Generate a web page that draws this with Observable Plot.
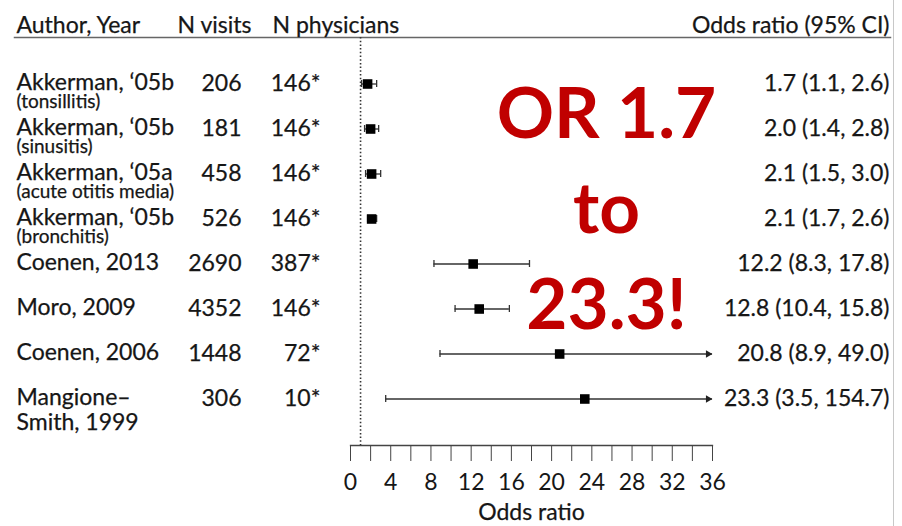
<!DOCTYPE html>
<html>
<head>
<meta charset="utf-8">
<script src="https://cdn.jsdelivr.net/npm/d3@7"></script>
<script src="https://cdn.jsdelivr.net/npm/@observablehq/plot@0.6"></script>
<style>
  html, body { margin: 0; padding: 0; background: #fff; }
  #chart svg { display: block; }
</style>
</head>
<body>
<div id="chart"></div>
<script>
// Studies, in display order (top to bottom)
const authors = [
  "Akkerman, ‘05b",
  "Akkerman, ‘05b",
  "Akkerman, ‘05a",
  "Akkerman, ‘05b",
  "Coenen, 2013",
  "Moro, 2009",
  "Coenen, 2006",
  "Mangione–\nSmith, 1999"
];
const conditions = ["(tonsillitis)", "(sinusitis)", "(acute otitis media)", "(bronchitis)", "", "", "", ""];
const visits = [206, 181, 458, 526, 2690, 4352, 1448, 306];
const physicians = [146, 146, 146, 146, 387, 146, 72, 10];

// Odds ratios with 95% confidence intervals
const oddsRatio = [1.7, 2.0, 2.1, 2.1, 12.2, 12.8, 20.8, 23.3];
const ciLow = [1.1, 1.4, 1.5, 1.7, 8.3, 10.4, 8.9, 3.5];
const ciHigh = [2.6, 2.8, 3.0, 2.6, 17.8, 15.8, 49.0, 154.7];

// Axis
const xMax = 36;
const minorTicks = [0, 2, 4, 6, 8, 10, 12, 14, 16, 18, 20, 22, 24, 26, 28, 30, 32, 34, 36];
const tickLabels = [0, 4, 8, 12, 16, 20, 24, 28, 32, 36];
const axisTitle = "Odds ratio";
const headers = {author: "Author, Year", visits: "N visits", physicians: "N physicians", or: "Odds ratio (95% CI)"};

const rows = authors.map((author, i) => ({
  i,
  author,
  condition: conditions[i],
  visits: visits[i],
  physicians: physicians[i],
  or: oddsRatio[i],
  lo: ciLow[i],
  hi: ciHigh[i]
}));

const fmt = d3.format(".1f");
const ink = "#161616";
const red = "#C00000";
const callout = `OR ${d3.min(oddsRatio)}\nto\n${d3.max(oddsRatio)}!`;

// a faint outline gives the body text a little more weight
const textStyle = {fill: ink, stroke: ink, strokeWidth: 0.25};

const chart = Plot.plot({
  width: 902,
  height: 526,
  marginLeft: 350,
  marginRight: 190,
  marginTop: 37,
  marginBottom: 81,
  style: {fontFamily: "Lato, sans-serif", fontSize: "23px", color: ink, background: "#fff", overflow: "visible"},
  x: {domain: [0, xMax]},
  y: {type: "band", domain: rows.map((d) => d.i), paddingInner: 0, paddingOuter: 0.5, axis: null},
  marks: [
    // header rule, axis line and right border
    Plot.frame({anchor: "top", insetLeft: -336, insetRight: -178, stroke: "#666", strokeWidth: 1.5}),
    Plot.frame({anchor: "bottom", stroke: "#444", strokeWidth: 1.3}),
    Plot.frame({anchor: "right", insetRight: -181, insetTop: -37, insetBottom: -81, stroke: "#c8c8c8"}),

    // line of no effect
    Plot.ruleX([1], {stroke: "#333", strokeWidth: 1.6, strokeDasharray: "1.5,2.2"}),

    Plot.axisX({
      ticks: minorTicks,
      tickSize: 16,
      tickPadding: 12,
      tickFormat: (d) => (tickLabels.includes(d) ? String(d) : ""),
      label: null,
      stroke: "#444",
      fill: ink
    }),
    Plot.text([axisTitle], {text: (d) => d, frameAnchor: "bottom", dy: 74, ...textStyle}),

    // column headers
    Plot.text([headers.author], {text: (d) => d, frameAnchor: "top-left", dx: -334, dy: -21, textAnchor: "start", ...textStyle}),
    Plot.text([headers.visits], {text: (d) => d, frameAnchor: "top-left", dx: -173, dy: -21, textAnchor: "start", ...textStyle}),
    Plot.text([headers.physicians], {text: (d) => d, frameAnchor: "top-left", dx: -78, dy: -21, textAnchor: "start", ...textStyle}),
    Plot.text([headers.or], {text: (d) => d, frameAnchor: "top-right", dx: 177, dy: -21, textAnchor: "end", ...textStyle}),

    // left columns
    Plot.text(rows, {y: "i", text: "author", frameAnchor: "left", dx: -334, dy: -12, textAnchor: "start", lineAnchor: "top", lineHeight: 1.09, ...textStyle}),
    Plot.text(rows, {y: "i", text: "condition", frameAnchor: "left", dx: -334, dy: 18, textAnchor: "start", fontSize: 19, ...textStyle}),
    Plot.text(rows, {y: "i", text: (d) => String(d.visits), frameAnchor: "left", dx: -109, textAnchor: "end", ...textStyle}),
    Plot.text(rows, {y: "i", text: (d) => `${d.physicians}*`, frameAnchor: "left", dx: -30, textAnchor: "end", ...textStyle}),

    // confidence intervals
    Plot.ruleY(rows, {y: "i", x1: "lo", x2: "hi", stroke: "#333", strokeWidth: 1.3, clip: true}),
    Plot.tickX(rows, {y: "i", x: "lo", stroke: "#333", strokeWidth: 1.3, insetTop: 19, insetBottom: 19}),
    Plot.tickX(rows.filter((d) => d.hi <= xMax), {y: "i", x: "hi", stroke: "#333", strokeWidth: 1.3, insetTop: 19, insetBottom: 19}),
    Plot.dot(rows.filter((d) => d.hi > xMax), {y: "i", x: () => xMax, symbol: "triangle", rotate: 90, r: 2.8, dx: -4.4, fill: "#222", stroke: "none"}),

    // point estimates
    Plot.dot(rows, {y: "i", x: "or", symbol: "square", r: 5.4, fill: "#000", stroke: "none"}),

    // odds ratio (95% CI) column
    Plot.text(rows, {y: "i", text: (d) => `${fmt(d.or)} (${fmt(d.lo)}, ${fmt(d.hi)})`, frameAnchor: "right", dx: 177, textAnchor: "end", ...textStyle}),

    // range callout
    Plot.text([callout], {text: (d) => d, frameAnchor: "middle", dx: 75, dy: -38.7, lineHeight: 1.35, fontSize: 71, fontWeight: 700, fill: red})
  ]
});

document.getElementById("chart").appendChild(chart);
</script>
</body>
</html>
